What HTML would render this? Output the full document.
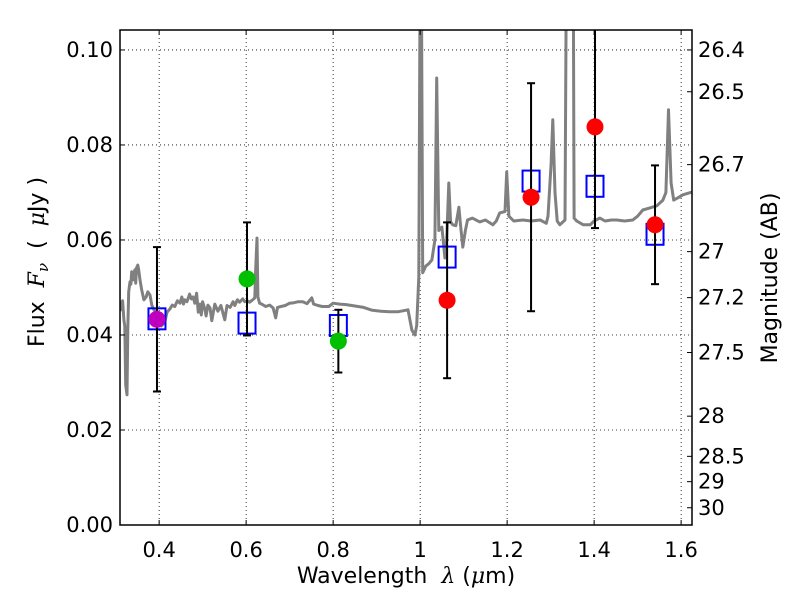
<!DOCTYPE html>
<html><head><meta charset="utf-8"><style>
body{margin:0;background:#fff}
svg text{font-family:"DejaVu Sans","Liberation Sans",sans-serif;fill:#000;white-space:pre}
</style></head><body>
<svg id="chart" width="800" height="600" xmlns="http://www.w3.org/2000/svg">
<defs><clipPath id="clip"><rect x="120" y="30" width="572" height="495"/></clipPath></defs>
<g id="grid"></g>
<g id="plot" clip-path="url(#clip)"></g>
<g id="axes"></g>
</svg>
<script>
const specWave=[0.310,0.312,0.314,0.316,0.319,0.321,0.323,0.326,0.328,0.330,0.333,0.335,0.337,0.340,0.342,0.344,0.346,0.348,0.351,0.353,0.356,0.360,0.365,0.370,0.374,0.379,0.383,0.388,0.395,0.400,0.405,0.413,0.418,0.425,0.430,0.436,0.442,0.448,0.452,0.456,0.459,0.464,0.470,0.474,0.478,0.482,0.486,0.490,0.494,0.497,0.500,0.505,0.508,0.512,0.517,0.521,0.528,0.535,0.542,0.551,0.556,0.563,0.570,0.574,0.580,0.585,0.592,0.597,0.603,0.608,0.615,0.620,0.622,0.625,0.627,0.631,0.636,0.645,0.654,0.662,0.668,0.672,0.680,0.690,0.700,0.710,0.720,0.730,0.740,0.751,0.755,0.765,0.775,0.790,0.800,0.815,0.830,0.850,0.870,0.890,0.910,0.930,0.950,0.972,0.981,0.988,0.992,0.997,1.000,1.003,1.006,1.013,1.020,1.027,1.034,1.038,1.043,1.050,1.057,1.061,1.066,1.070,1.075,1.082,1.089,1.093,1.098,1.104,1.109,1.120,1.137,1.150,1.167,1.175,1.183,1.195,1.199,1.204,1.215,1.236,1.255,1.276,1.290,1.294,1.301,1.305,1.310,1.315,1.321,1.333,1.336,1.340,1.348,1.352,1.354,1.360,1.375,1.391,1.400,1.413,1.425,1.440,1.452,1.470,1.489,1.500,1.512,1.530,1.544,1.558,1.565,1.571,1.577,1.583,1.595,1.604,1.625];
const specFlux=[0.0471,0.0469,0.0453,0.0472,0.0432,0.0419,0.0295,0.0274,0.0411,0.0491,0.0512,0.0507,0.0533,0.0516,0.0528,0.0537,0.0509,0.0541,0.0547,0.0537,0.0516,0.0495,0.0474,0.0480,0.0491,0.0484,0.0463,0.0453,0.0445,0.0432,0.0419,0.0427,0.0448,0.0455,0.0463,0.0460,0.0472,0.0467,0.0480,0.0465,0.0474,0.0470,0.0486,0.0476,0.0480,0.0467,0.0488,0.0448,0.0465,0.0442,0.0470,0.0455,0.0440,0.0463,0.0457,0.0430,0.0465,0.0450,0.0462,0.0432,0.0462,0.0458,0.0470,0.0462,0.0474,0.0469,0.0476,0.0470,0.0472,0.0469,0.0474,0.0478,0.0540,0.0604,0.0480,0.0467,0.0465,0.0460,0.0463,0.0457,0.0436,0.0458,0.0460,0.0462,0.0467,0.0468,0.0470,0.0470,0.0466,0.0478,0.0465,0.0462,0.0460,0.0460,0.0467,0.0465,0.0464,0.0461,0.0458,0.0452,0.0450,0.0449,0.0449,0.0453,0.0410,0.0400,0.0420,0.0522,0.115,0.115,0.0531,0.0545,0.0550,0.0558,0.0600,0.0941,0.0620,0.0627,0.0562,0.0600,0.0720,0.0638,0.0632,0.0630,0.0669,0.0630,0.0585,0.0620,0.0642,0.0646,0.0638,0.0642,0.0632,0.0640,0.0657,0.0660,0.0743,0.0650,0.0640,0.0642,0.0640,0.0642,0.0635,0.0650,0.0760,0.0853,0.0700,0.0640,0.0632,0.0642,0.115,0.115,0.115,0.115,0.0646,0.0640,0.0632,0.0632,0.0640,0.0646,0.0640,0.0642,0.0642,0.0640,0.0642,0.0650,0.0663,0.0668,0.0672,0.0684,0.0700,0.0874,0.0720,0.0684,0.0690,0.0695,0.0701];
const bandWave=[0.395,0.602,0.812,1.062,1.255,1.402,1.540];
const modelFlux=[0.0434,0.0425,0.0420,0.0564,0.0724,0.0713,0.0612];
const obsFlux=[0.0433,0.0518,0.0387,0.0473,0.0690,0.0838,0.0632];
const obsErr=[0.0152,0.0119,0.0066,0.0164,0.0240,0.0213,0.0125];
const obsColor=['#bf00bf','#00c000','#00c000','#ff0000','#ff0000','#ff0000','#ff0000'];
const xTicks=[0.4,0.6,0.8,1.0,1.2,1.4,1.6];
const xTickLabels=['0.4','0.6','0.8','1','1.2','1.4','1.6'];
const yTicks=[0,0.02,0.04,0.06,0.08,0.10];
const yTickLabels=['0.00','0.02','0.04','0.06','0.08','0.10'];
const magTicks=[26.4,26.5,26.7,27,27.2,27.5,28,28.5,29,30];
const magTickLabels=['26.4','26.5','26.7','27','27.2','27.5','28','28.5','29','30'];

const L=120,R=692,T=30,B=525,X0=0.31,X1=1.625,Y0=0,Y1=0.1042;
const sx=v=>L+(v-X0)/(X1-X0)*(R-L);
const sy=v=>B-(v-Y0)/(Y1-Y0)*(B-T);
const magToFlux=m=>Math.pow(10,(23.9-m)/2.5);
const NS='http://www.w3.org/2000/svg';
function mk(tag,attrs,parent){const e=document.createElementNS(NS,tag);for(const k in attrs)e.setAttribute(k,attrs[k]);parent.appendChild(e);return e;}
const grid=document.getElementById('grid'),plot=document.getElementById('plot'),axes=document.getElementById('axes');

xTicks.forEach((v,i)=>{
  const g=mk('line',{x1:sx(v),x2:sx(v),y1:T,y2:B,stroke:'#000','stroke-width':0.8,'stroke-dasharray':'1,3'},grid);
  
  
  mk('line',{x1:sx(v),x2:sx(v),y1:B,y2:B-5,stroke:'#000','stroke-width':1},axes);
  mk('line',{x1:sx(v),x2:sx(v),y1:T,y2:T+5,stroke:'#000','stroke-width':1},axes);
  const t=mk('text',{x:sx(v),y:557,'text-anchor':'middle','font-size':21},axes);
  t.textContent=xTickLabels[i];
  
  
});
yTicks.forEach((v,i)=>{
  const g=mk('line',{x1:L,x2:R,y1:sy(v),y2:sy(v),stroke:'#000','stroke-width':0.8,'stroke-dasharray':'1,3'},grid);
  
  
  mk('line',{x1:L,x2:L+5,y1:sy(v),y2:sy(v),stroke:'#000','stroke-width':1},axes);
  const t=mk('text',{x:113,y:sy(v)+7,'text-anchor':'end','font-size':21},axes);
  t.textContent=yTickLabels[i];
  
  
});
magTicks.forEach((m,i)=>{
  const y=sy(magToFlux(m));
  mk('line',{x1:R,x2:R-5,y1:y,y2:y,stroke:'#000','stroke-width':1},axes);
  const t=mk('text',{x:698,y:y+7,'text-anchor':'start','font-size':21},axes);
  t.textContent=magTickLabels[i];
  
  
});

const pts=specWave.map((w,i)=>sx(w).toFixed(1)+','+sy(specFlux[i]).toFixed(1)).join(' ');
const sp=mk('polyline',{points:pts,fill:'none',stroke:'#808080','stroke-width':3,'stroke-linejoin':'round'},plot);



bandWave.forEach((w,i)=>{
  const x=sx(w),y=sy(modelFlux[i]);
  const r=mk('rect',{x:x-8.5,y:y-10.5,width:17,height:21,fill:'none',stroke:'#0000ff','stroke-width':2},plot);
  
  
});
bandWave.forEach((w,i)=>{
  const x=sx(w),yt=sy(obsFlux[i]+obsErr[i]),yb=sy(obsFlux[i]-obsErr[i]);
  const g=mk('g',{stroke:'#000','stroke-width':2},plot);
  
  
  mk('line',{x1:x,x2:x,y1:yt,y2:yb},g);
  mk('line',{x1:x-4,x2:x+4,y1:yt,y2:yt},g);
  mk('line',{x1:x-4,x2:x+4,y1:yb,y2:yb},g);
});
bandWave.forEach((w,i)=>{
  const c=mk('circle',{cx:sx(w),cy:sy(obsFlux[i]),r:8.5,fill:obsColor[i]},plot);
  
  
});

const fr=mk('rect',{x:L,y:T,width:R-L,height:B-T,fill:'none',stroke:'#000','stroke-width':1.5},axes);


const xt=mk('text',{x:406,y:583,'text-anchor':'middle','font-size':22},axes);
xt.innerHTML='Wavelength  <tspan font-style="italic" font-family="DejaVu Serif,serif">λ</tspan> (<tspan font-style="italic" font-family="DejaVu Serif,serif">μ</tspan>m)';


const yt=mk('text',{x:0,y:0,'text-anchor':'middle','font-size':22,transform:'translate(44,262) rotate(-90)'},axes);
yt.innerHTML='Flux  <tspan font-style="italic" font-family="DejaVu Serif,serif">F<tspan font-size="15" dy="4">ν</tspan></tspan><tspan dy="-4">  (  </tspan><tspan font-style="italic" font-family="DejaVu Serif,serif">μ</tspan>Jy )';


const mt=mk('text',{x:0,y:0,'text-anchor':'middle','font-size':22,transform:'translate(777,278) rotate(-90)'},axes);
mt.textContent='Magnitude (AB)';


</script>
</body></html>
